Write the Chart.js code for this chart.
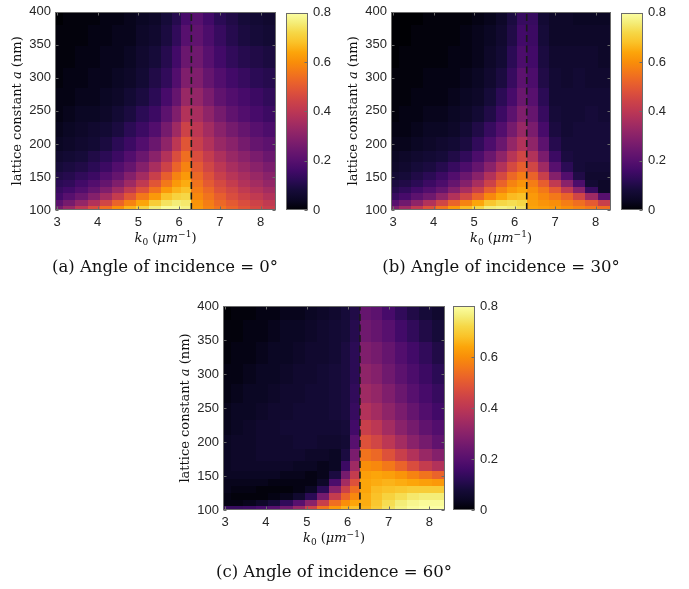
<!DOCTYPE html>
<html><head><meta charset="utf-8">
<script src="https://cdn.jsdelivr.net/npm/chart.js@4.4.1/dist/chart.umd.min.js"></script>
<style>
html,body{margin:0;padding:0;background:#fff;}
#wrap{position:relative;width:689px;height:589px;overflow:hidden;background:#fff;}
#wrap canvas{position:absolute;left:0;top:0;}
.cap{position:absolute;font-family:"DejaVu Serif",serif;font-size:16.5px;line-height:20px;color:#111;white-space:nowrap;transform:translateX(-50%);}
</style></head><body>
<div id="wrap">
<canvas id="hA" width="689" height="589"></canvas>
<canvas id="cA" width="689" height="589"></canvas>
<canvas id="hB" width="689" height="589"></canvas>
<canvas id="cB" width="689" height="589"></canvas>
<canvas id="hC" width="689" height="589"></canvas>
<canvas id="cC" width="689" height="589"></canvas>
<div class="cap" style="left:165px;top:257px">(a) Angle of incidence = 0°</div>
<div class="cap" style="left:501px;top:257px">(b) Angle of incidence = 30°</div>
<div class="cap" style="left:334px;top:562px">(c) Angle of incidence = 60°</div>
</div>
<script>
// ---------------- data ----------------
const k0Centers = [3.0,3.3,3.6,3.9,4.2,4.5,4.8,5.1,5.4,5.7,5.95,6.15,6.45,6.7,7.0,7.3,7.6,7.9,8.2];
const latticeRows = [102,110,120,130,140,150,165,180,200,220,245,270,300,330,365,395];
const xTicks = [3,4,5,6,7,8];
const yTicks = [100,150,200,250,300,350,400];
const cbTicks = [0,0.2,0.4,0.6,0.8];
const k0Range = [2.95,8.38];
const aRange = [100,400];
const cRange = [0,0.8];
const rayleighK0 = 6.3;

// rows follow latticeRows (bottom to top), columns follow k0Centers
const angle0 = [
[0.26,0.33,0.40,0.47,0.54,0.60,0.66,0.71,0.76,0.79,0.79,0.77,0.62,0.58,0.55,0.52,0.49,0.46,0.43],
[0.21,0.26,0.32,0.38,0.45,0.52,0.58,0.64,0.70,0.74,0.76,0.75,0.61,0.57,0.53,0.50,0.47,0.44,0.41],
[0.16,0.20,0.24,0.29,0.35,0.42,0.49,0.56,0.62,0.68,0.71,0.72,0.59,0.55,0.51,0.47,0.44,0.41,0.38],
[0.14,0.16,0.19,0.23,0.28,0.34,0.41,0.48,0.55,0.62,0.66,0.68,0.57,0.53,0.48,0.45,0.41,0.38,0.35],
[0.12,0.13,0.16,0.19,0.23,0.28,0.34,0.41,0.49,0.56,0.62,0.65,0.55,0.50,0.46,0.42,0.38,0.35,0.32],
[0.10,0.11,0.13,0.15,0.19,0.23,0.29,0.35,0.43,0.51,0.58,0.62,0.53,0.48,0.43,0.39,0.36,0.33,0.30],
[0.08,0.09,0.10,0.12,0.15,0.19,0.23,0.29,0.36,0.44,0.52,0.58,0.50,0.45,0.40,0.36,0.33,0.30,0.27],
[0.06,0.07,0.08,0.10,0.12,0.15,0.19,0.24,0.30,0.38,0.47,0.54,0.47,0.42,0.37,0.33,0.30,0.27,0.24],
[0.04,0.05,0.06,0.07,0.09,0.12,0.15,0.19,0.24,0.31,0.40,0.49,0.43,0.38,0.33,0.30,0.26,0.23,0.21],
[0.03,0.04,0.05,0.06,0.07,0.09,0.12,0.15,0.19,0.26,0.34,0.44,0.40,0.35,0.30,0.26,0.23,0.20,0.18],
[0.02,0.03,0.04,0.04,0.05,0.07,0.09,0.12,0.15,0.21,0.28,0.38,0.36,0.31,0.26,0.22,0.19,0.17,0.15],
[0.02,0.02,0.03,0.03,0.04,0.05,0.07,0.09,0.12,0.17,0.23,0.33,0.32,0.27,0.22,0.19,0.17,0.15,0.13],
[0.01,0.02,0.02,0.03,0.03,0.04,0.05,0.07,0.10,0.13,0.19,0.28,0.28,0.23,0.19,0.16,0.14,0.12,0.11],
[0.01,0.01,0.02,0.02,0.03,0.03,0.04,0.06,0.08,0.11,0.16,0.24,0.25,0.20,0.16,0.13,0.11,0.10,0.09],
[0.01,0.01,0.01,0.02,0.02,0.03,0.03,0.05,0.06,0.09,0.13,0.20,0.22,0.18,0.14,0.11,0.09,0.08,0.07],
[0.00,0.01,0.01,0.01,0.02,0.02,0.03,0.04,0.05,0.08,0.11,0.17,0.20,0.16,0.12,0.10,0.08,0.07,0.06]
];
const angle30 = [
[0.28,0.34,0.41,0.48,0.55,0.62,0.67,0.72,0.76,0.77,0.76,0.74,0.64,0.63,0.62,0.60,0.58,0.56,0.54],
[0.20,0.25,0.31,0.38,0.45,0.52,0.58,0.64,0.69,0.72,0.73,0.72,0.63,0.61,0.60,0.57,0.54,0.50,0.43],
[0.14,0.17,0.21,0.25,0.31,0.38,0.45,0.52,0.59,0.64,0.67,0.68,0.62,0.59,0.56,0.52,0.45,0.34,0.20],
[0.11,0.13,0.16,0.19,0.23,0.29,0.36,0.43,0.51,0.58,0.62,0.64,0.60,0.56,0.50,0.41,0.30,0.14,0.05],
[0.09,0.10,0.12,0.15,0.18,0.23,0.29,0.36,0.44,0.52,0.58,0.61,0.57,0.51,0.41,0.30,0.18,0.07,0.05],
[0.07,0.08,0.10,0.12,0.15,0.19,0.24,0.30,0.38,0.46,0.53,0.57,0.52,0.43,0.29,0.19,0.10,0.06,0.06],
[0.05,0.06,0.08,0.09,0.11,0.14,0.18,0.23,0.30,0.38,0.46,0.51,0.45,0.34,0.20,0.12,0.08,0.07,0.07],
[0.04,0.05,0.06,0.07,0.08,0.10,0.13,0.18,0.24,0.31,0.39,0.45,0.38,0.27,0.15,0.09,0.08,0.08,0.08],
[0.03,0.03,0.04,0.05,0.06,0.07,0.09,0.13,0.18,0.24,0.32,0.38,0.31,0.21,0.11,0.08,0.08,0.08,0.08],
[0.02,0.02,0.03,0.04,0.04,0.05,0.07,0.10,0.14,0.19,0.26,0.33,0.27,0.17,0.09,0.07,0.08,0.08,0.08],
[0.01,0.02,0.02,0.03,0.03,0.04,0.05,0.07,0.10,0.15,0.21,0.28,0.23,0.14,0.08,0.07,0.07,0.08,0.07],
[0.01,0.01,0.02,0.02,0.02,0.03,0.04,0.05,0.08,0.12,0.17,0.24,0.20,0.12,0.07,0.07,0.07,0.07,0.07],
[0.01,0.01,0.01,0.02,0.02,0.02,0.03,0.04,0.06,0.09,0.14,0.21,0.18,0.10,0.07,0.06,0.07,0.06,0.06],
[0.00,0.01,0.01,0.01,0.01,0.02,0.02,0.03,0.05,0.07,0.12,0.18,0.16,0.09,0.06,0.06,0.06,0.06,0.05],
[0.00,0.00,0.01,0.01,0.01,0.01,0.02,0.03,0.04,0.06,0.10,0.16,0.15,0.08,0.05,0.05,0.05,0.05,0.05],
[0.00,0.00,0.00,0.01,0.01,0.01,0.01,0.02,0.03,0.05,0.09,0.14,0.14,0.07,0.05,0.05,0.04,0.04,0.04]
];
const angle60 = [
[0.14,0.14,0.15,0.17,0.20,0.25,0.33,0.44,0.55,0.62,0.66,0.68,0.66,0.70,0.74,0.77,0.79,0.80,0.80],
[0.02,0.02,0.03,0.05,0.08,0.13,0.20,0.30,0.43,0.54,0.60,0.64,0.65,0.69,0.73,0.76,0.78,0.79,0.79],
[0.02,0.01,0.01,0.01,0.02,0.03,0.06,0.12,0.26,0.42,0.52,0.59,0.65,0.68,0.71,0.73,0.75,0.76,0.76],
[0.03,0.02,0.02,0.01,0.01,0.01,0.02,0.04,0.12,0.30,0.44,0.54,0.64,0.67,0.68,0.69,0.70,0.70,0.70],
[0.03,0.03,0.03,0.03,0.02,0.02,0.02,0.02,0.05,0.18,0.35,0.48,0.64,0.65,0.66,0.65,0.64,0.63,0.62],
[0.04,0.04,0.04,0.04,0.04,0.03,0.03,0.02,0.03,0.09,0.26,0.42,0.63,0.64,0.63,0.61,0.58,0.55,0.52],
[0.04,0.05,0.05,0.05,0.05,0.05,0.04,0.04,0.03,0.04,0.15,0.34,0.60,0.59,0.56,0.52,0.47,0.42,0.38],
[0.04,0.05,0.05,0.06,0.06,0.06,0.06,0.05,0.05,0.04,0.09,0.27,0.55,0.53,0.48,0.43,0.38,0.33,0.29],
[0.04,0.05,0.05,0.06,0.06,0.06,0.07,0.07,0.06,0.06,0.07,0.20,0.48,0.45,0.40,0.35,0.30,0.26,0.22],
[0.03,0.04,0.05,0.06,0.06,0.07,0.07,0.07,0.07,0.07,0.08,0.16,0.43,0.40,0.35,0.30,0.26,0.22,0.19],
[0.03,0.04,0.04,0.05,0.06,0.06,0.07,0.07,0.07,0.08,0.09,0.14,0.38,0.35,0.31,0.27,0.23,0.19,0.16],
[0.02,0.03,0.04,0.04,0.05,0.06,0.06,0.07,0.07,0.08,0.09,0.13,0.34,0.32,0.28,0.24,0.20,0.17,0.14],
[0.02,0.02,0.03,0.04,0.04,0.05,0.06,0.06,0.07,0.08,0.09,0.12,0.31,0.29,0.25,0.21,0.18,0.15,0.12],
[0.01,0.02,0.02,0.03,0.04,0.04,0.05,0.06,0.06,0.07,0.09,0.12,0.28,0.26,0.23,0.19,0.16,0.13,0.10],
[0.01,0.01,0.02,0.02,0.03,0.04,0.04,0.05,0.06,0.07,0.08,0.11,0.25,0.23,0.20,0.16,0.13,0.10,0.08],
[0.00,0.01,0.01,0.02,0.02,0.03,0.03,0.04,0.05,0.06,0.08,0.10,0.23,0.21,0.17,0.13,0.10,0.08,0.06]
];

// ---------------- styling ----------------
const W = 689, H = 589, YW = 40, XH = 40;
const TICK_FONT = {family:'"Liberation Sans", Arial, sans-serif', size:13};
const TXT = '#262626', FRAME = '#6b6b6b';
const SERIF = '"DejaVu Serif", serif';

const infernoStops = [[0,'#000004'],[0.05,'#0b0724'],[0.1,'#160b39'],[0.15,'#2b0b55'],[0.2,'#420a68'],[0.25,'#57106e'],[0.3,'#6a176e'],[0.35,'#7f1e6c'],[0.4,'#932667'],[0.45,'#a82e5f'],[0.5,'#bc3754'],[0.55,'#cc4248'],[0.6,'#dd513a'],[0.65,'#ea632a'],[0.7,'#f37819'],[0.75,'#f98e09'],[0.8,'#fca50a'],[0.85,'#fac228'],[0.9,'#f6d746'],[0.95,'#f4ed78'],[1,'#fcffa4']];
const stopRGB = infernoStops.map(s => [s[0], parseInt(s[1].slice(1,3),16), parseInt(s[1].slice(3,5),16), parseInt(s[1].slice(5,7),16)]);
function cmap(t){
  t = Math.max(0, Math.min(1, t));
  for (let i=1;i<stopRGB.length;i++){
    if (t <= stopRGB[i][0]){
      const a = stopRGB[i-1], b = stopRGB[i], f = (t-a[0])/(b[0]-a[0]);
      return 'rgb(' + [1,2,3].map(k => Math.round(a[k]+(b[k]-a[k])*f)).join(',') + ')';
    }
  }
  return infernoStops[infernoStops.length-1][1];
}
function edges(c, lo, hi){ const e=[lo]; for(let i=1;i<c.length;i++) e.push((c[i-1]+c[i])/2); e.push(hi); return e; }

function heatPlugin(z){
  return { id:'heat', beforeDatasetsDraw(chart){
    const xs = chart.scales.x, ys = chart.scales.y, ctx = chart.ctx;
    const xe = edges(k0Centers, xs.min, xs.max), ye = edges(latticeRows, ys.min, ys.max);
    ctx.save();
    for (let r=0;r<latticeRows.length;r++){
      const yb = Math.round(ys.getPixelForValue(ye[r])), yt = Math.round(ys.getPixelForValue(ye[r+1]));
      for (let c=0;c<k0Centers.length;c++){
        const x0 = Math.round(xs.getPixelForValue(xe[c])), x1 = Math.round(xs.getPixelForValue(xe[c+1]));
        ctx.fillStyle = cmap((z[r][c]-cRange[0])/(cRange[1]-cRange[0]));
        ctx.fillRect(x0, yt, x1-x0, yb-yt);
      }
    }
    ctx.restore();
  }};
}
function framePlugin(isBar){
  return { id:'frame', afterDatasetsDraw(chart){
    const {ctx, chartArea:a} = chart;
    ctx.save();
    ctx.strokeStyle = FRAME; ctx.lineWidth = 1;
    const L = Math.round(a.left)+0.5, T = Math.round(a.top)+0.5, R = Math.round(a.right)-0.5, B = Math.round(a.bottom)-0.5;
    ctx.strokeRect(L, T, R-L, B-T);
    ctx.beginPath();
    const len = 3;
    if (isBar){
      cbTicks.forEach(v => { const y = Math.round(chart.scales.y.getPixelForValue(v))+0.5; ctx.moveTo(R, y); ctx.lineTo(R-len, y); });
    } else {
      xTicks.forEach(v => { const x = Math.round(chart.scales.x.getPixelForValue(v))+0.5; ctx.moveTo(x,B); ctx.lineTo(x,B-len); ctx.moveTo(x,T); ctx.lineTo(x,T+len); });
      yTicks.forEach(v => { const y = Math.round(chart.scales.y.getPixelForValue(v))+0.5; ctx.moveTo(L,y); ctx.lineTo(L+len,y); ctx.moveTo(R,y); ctx.lineTo(R-len,y); });
    }
    ctx.stroke();
    ctx.restore();
  }};
}
function drawRuns(ctx, runs, cx, by){
  let w = 0;
  runs.forEach(r => { ctx.font = r.font; r.w = ctx.measureText(r.t).width; w += r.w; });
  let x = cx - w/2;
  runs.forEach(r => { ctx.font = r.font; ctx.fillText(r.t, x, by + (r.dy||0)); x += r.w; });
}
const xTitleRuns = () => [
  {t:'k', font:'italic 13px '+SERIF},
  {t:'0', font:'9px '+SERIF, dy:2.5},
  {t:' (', font:'13px '+SERIF},
  {t:'μm', font:'italic 13px '+SERIF},
  {t:'−1', font:'9px '+SERIF, dy:-5},
  {t:')', font:'13px '+SERIF}
];
const yTitleRuns = () => [
  {t:'lattice constant ', font:'13px '+SERIF},
  {t:'a', font:'italic 13px '+SERIF},
  {t:' (nm)', font:'13px '+SERIF}
];
function titlePlugin(){
  return { id:'titles', afterDraw(chart){
    const {ctx, chartArea:a} = chart;
    ctx.save();
    ctx.fillStyle = '#111'; ctx.textBaseline = 'alphabetic'; ctx.textAlign = 'left';
    drawRuns(ctx, xTitleRuns(), (a.left+a.right)/2, a.bottom + 32);
    ctx.translate(a.left - 34, (a.top+a.bottom)/2);
    ctx.rotate(-Math.PI/2);
    drawRuns(ctx, yTitleRuns(), 0, 0);
    ctx.restore();
  }};
}

function makeHeat(id, z, l, t, r, b){
  new Chart(document.getElementById(id), {
    type:'scatter',
    data:{ datasets:[{
      data: aRange.map(a => ({x:rayleighK0, y:a})),
      showLine:true, borderColor:'#1a1a1a', borderWidth:1.6, borderDash:[7,3.5],
      pointRadius:0, fill:false, tension:0
    }]},
    options:{
      responsive:false, maintainAspectRatio:false, animation:false, devicePixelRatio:1,
      events:[],
      layout:{autoPadding:false, padding:{left:l-YW, top:t, right:W-r, bottom:H-b-XH}},
      plugins:{legend:{display:false}, tooltip:{enabled:false}},
      scales:{
        x:{type:'linear', min:k0Range[0], max:k0Range[1],
           afterBuildTicks:s => { s.ticks = xTicks.map(v => ({value:v})); },
           afterFit:s => { s.height = XH; },
           ticks:{font:TICK_FONT, color:TXT, padding:5, maxRotation:0, autoSkip:false, callback:v => String(v)},
           grid:{display:false, drawTicks:false, tickLength:0}, border:{display:false}},
        y:{type:'linear', min:aRange[0], max:aRange[1],
           afterBuildTicks:s => { s.ticks = yTicks.map(v => ({value:v})); },
           afterFit:s => { s.width = YW; },
           ticks:{font:TICK_FONT, color:TXT, padding:4, autoSkip:false, callback:v => String(v)},
           grid:{display:false, drawTicks:false, tickLength:0}, border:{display:false}}
      }
    },
    plugins:[heatPlugin(z), framePlugin(false), titlePlugin()]
  });
}
function makeBar(id, l, t, r, b){
  new Chart(document.getElementById(id), {
    type:'bar',
    data:{ labels:['colorbar'], datasets:[{
      data:[[cRange[0], cRange[1]]],
      barPercentage:1, categoryPercentage:1, borderWidth:0,
      backgroundColor: c => {
        const ch = c.chart; if (!ch.chartArea) return '#000';
        const ys = ch.scales.y;
        const g = ch.ctx.createLinearGradient(0, ys.getPixelForValue(cRange[0]), 0, ys.getPixelForValue(cRange[1]));
        infernoStops.forEach(s => g.addColorStop(s[0], s[1]));
        return g;
      }
    }]},
    options:{
      responsive:false, maintainAspectRatio:false, animation:false, devicePixelRatio:1,
      events:[],
      layout:{autoPadding:false, padding:{left:l, top:t, right:W-r-YW, bottom:H-b}},
      plugins:{legend:{display:false}, tooltip:{enabled:false}},
      scales:{
        x:{display:false},
        y:{position:'right', min:cRange[0], max:cRange[1],
           afterBuildTicks:s => { s.ticks = cbTicks.map(v => ({value:v})); },
           afterFit:s => { s.width = YW; },
           ticks:{font:TICK_FONT, color:TXT, padding:5, callback:v => String(v)},
           grid:{display:false, drawTicks:false, tickLength:0}, border:{display:false}}
      }
    },
    plugins:[framePlugin(true)]
  });
}

makeHeat('hA', angle0, 55, 6, 276, 210);
makeBar('cA', 286, 6, 308, 210);
makeHeat('hB', angle30, 391, 6, 611, 210);
makeBar('cB', 621, 6, 643, 210);
makeHeat('hC', angle60, 223, 306, 445, 510);
makeBar('cC', 453, 306, 475, 510);
</script>
</body></html>
